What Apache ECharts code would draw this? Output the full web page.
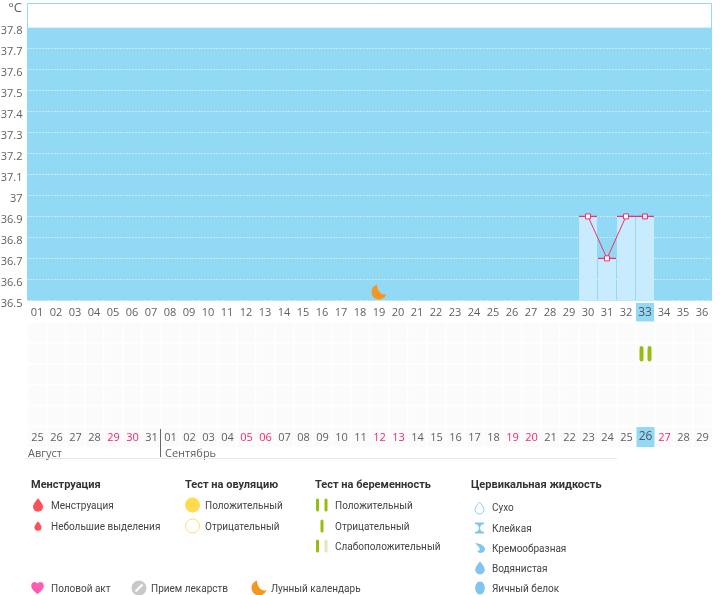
<!DOCTYPE html>
<html><head><meta charset="utf-8">
<style>html,body{margin:0;padding:0;background:#fff}#c{width:720px;height:595px}</style>
<script src="https://cdn.jsdelivr.net/npm/echarts@6/dist/echarts.min.js"></script>
</head><body><div id="c"></div>
<script>
const cycleDays = ['01','02','03','04','05','06','07','08','09','10','11','12','13','14','15','16','17','18','19','20','21','22','23','24','25','26','27','28','29','30','31','32','33','34','35','36'];
const calendarDays = ['25','26','27','28','29','30','31','01','02','03','04','05','06','07','08','09','10','11','12','13','14','15','16','17','18','19','20','21','22','23','24','25','26','27','28','29'];
const weekendIndexes = [4,5,11,12,18,19,25,26,33];
const todayIndex = 32;
const temps = [null,null,null,null,null,null,null,null,null,null,null,null,null,null,null,null,null,null,null,null,null,null,null,null,null,null,null,null,null,36.9,36.7,36.9,36.9,null,null,null];
const moonPoints = [[18,36.54]];
const pregnancyMarks = [[32,1]];
const bandMin = 36.5, bandMax = 37.8;
const rowCount = 6;

const FONT = 'Roboto, sans-serif';
const AXISFONT = '"Open Sans", sans-serif';
const BLUE = '#92d9f6', PALE = '#c8ecfd', PINK = '#f0316c', GREEN = '#96bd0d', ORANGE = '#f5961e';

const DROP = 'path://M12 0C12 0 22 11 22 17A10 10 0 0 1 2 17C2 11 12 0 12 0Z';
const MOON = 'path://M9 1A11.5 11.5 0 1 0 23.5 15.5C15 18 10 10 9 1Z';

const cells = [];
for (let r = 0; r < rowCount; r++) for (let c = 0; c < cycleDays.length; c++) cells.push([c, r, 1]);

const lbl = (list, highlight) => (v, i) => {
  const t = list[i];
  if (i === todayIndex) return '{h|' + t + '}';
  if (highlight && highlight.indexOf(i) >= 0) return '{p|' + t + '}';
  return '{n|' + t + '}';
};
const richSet = {
  n:{width:19,height:20,lineHeight:20,align:'center',color:'#5f5f5f',fontFamily:AXISFONT,fontSize:11},
  p:{width:19,height:20,lineHeight:20,align:'center',color:'#f5296a',fontFamily:AXISFONT,fontSize:11},
  h:{width:18,height:20,lineHeight:21,align:'center',color:'#555',backgroundColor:BLUE,fontFamily:AXISFONT,fontSize:12}
};

// legend content
const heads = [['Менструация',31],['Тест на овуляцию',185],['Тест на беременность',315],['Цервикальная жидкость',471]];
const items = [
  ['Менструация',51,505],['Небольшие выделения',51,526],
  ['Положительный',205,505],['Отрицательный',205,526],
  ['Положительный',335,505],['Отрицательный',335,526],['Слабоположительный',335,546],
  ['Сухо',492,507],['Клейкая',492,528],['Кремообразная',492,548],['Водянистая',492,568],['Яичный белок',492,588],
  ['Половой акт',51,588],['Прием лекарств',151,588],['Лунный календарь',271,588]
];
const months = [['Август',28],['Сентябрь',165]];

function pathIcon(d,cx,cy,w,h,style){
  return {type:'path',shape:{pathData:d,layout:'center',x:cx-w/2,y:cy-h/2,width:w,height:h},style:style,silent:true};
}
const g = [];
heads.forEach(h=>g.push({type:'text',x:h[1],y:485.5,style:{text:h[0],font:'bold 11px '+FONT,fill:'#333',textVerticalAlign:'middle'}}));
items.forEach(t=>g.push({type:'text',x:t[1],y:t[2]+1,style:{text:t[0],font:'10px '+FONT,fill:'#444',textVerticalAlign:'middle'}}));
months.forEach(m=>g.push({type:'text',x:m[1],y:454,style:{text:m[0],font:'11px '+AXISFONT,fill:'#5f5f5f',textVerticalAlign:'middle'}}));
g.push({type:'line',z:10,shape:{x1:160.5,y1:429,x2:160.5,y2:457},style:{stroke:'#666',lineWidth:1}});
g.push({type:'line',shape:{x1:26,y1:458.5,x2:617,y2:458.5},style:{stroke:'#e8e8e8',lineWidth:1}});
const dropD = DROP.slice(7);
const icons = [];
icons.push(pathIcon(dropD,38,505,10,14,{fill:'#fb5058'}));
icons.push(pathIcon(dropD,38,526,7,10,{fill:'#fb5058'}));
g.push({type:'circle',shape:{cx:192.5,cy:505,r:7.5},style:{fill:'#ffdb4d'}});
g.push({type:'circle',shape:{cx:192.5,cy:526,r:7},style:{fill:'#fff',stroke:'#ffe066',lineWidth:1}});
[[317.5,505,GREEN],[326,505,GREEN],[322,526,GREEN],[317.5,546,GREEN],[326,546,'#dde9b8']].forEach(b=>
  g.push({type:'rect',shape:{x:b[0]-1.5,y:b[1]-6.5,width:3,height:13,r:1.5},style:{fill:b[2]}}));
icons.push(pathIcon(dropD,479.5,508,9,12,{fill:'#fff',stroke:'#8fcdf5',lineWidth:1}));
icons.push(pathIcon('M2 0H22V3C16 4 13 8 13 12C13 16 16 20 22 21V24H2V21C8 20 11 16 11 12C11 8 8 4 2 3Z',479.5,528,9,11,{fill:'#7fc5f0'}));
icons.push(pathIcon('M1 1C7 2 13 3 18 6C22 9 24 12 24 15C24 20 20 24 14 24C10 24 7 22 6 19C9 20 12 18 12 15C12 11 6 7 1 1Z',480,548,10,11,{fill:'#7fc5f0'}));
icons.push(pathIcon(dropD,480,568,10,13,{fill:'#7fc5f0'}));
g.push({type:'ellipse',shape:{cx:480,cy:588,rx:4.8,ry:6.5},style:{fill:'#7fc5f0'}});
icons.push(pathIcon('M12 23C6 18 0 14 0 7C0 3 3 0 6.5 0C9 0 11 1.5 12 3C13 1.5 15 0 17.5 0C21 0 24 3 24 7C24 14 18 18 12 23Z',37.5,588,13,12,{fill:'#ff5cb4'}));
g.push({type:'circle',shape:{cx:139,cy:588,r:7.5},style:{fill:'#c8c8c8'}});
g.push({type:'line',shape:{x1:135.5,y1:591.5,x2:142.5,y2:584.5},style:{stroke:'#fff',lineWidth:2.2}});
icons.push(pathIcon(MOON.slice(7),259,588,15,15,{fill:ORANGE}));
g.push({type:'text',x:22,y:8,style:{text:'°C',font:'13px '+AXISFONT,fill:'#5f5f5f',textAlign:'right',textVerticalAlign:'middle'}});

const chart = echarts.init(document.getElementById('c'),null,{renderer:'canvas'});
chart.setOption({
  animation:false,
  backgroundColor:'#fff',
  graphic:{elements:g},
  grid:[
    {left:27.5,width:684,top:3.5,height:296.9,show:true,borderColor:BLUE,borderWidth:1,backgroundColor:'#fff',containLabel:false,outerBoundsMode:'none'},
    {left:28,width:684,top:322.5,height:125,outerBoundsMode:'none'}
  ],
  xAxis:[
    {type:'category',gridIndex:0,data:cycleDays,axisLine:{show:false},axisTick:{show:false},splitLine:{show:false},
     axisLabel:{interval:0,margin:2,formatter:lbl(cycleDays),rich:richSet,hideOverlap:false}},
    {type:'category',gridIndex:1,z:3,data:calendarDays,axisLine:{show:false},axisTick:{show:false},splitLine:{show:false},
     axisLabel:{interval:0,inside:true,margin:0,formatter:lbl(calendarDays,weekendIndexes),rich:richSet,hideOverlap:false}}
  ],
  yAxis:[
    {type:'value',gridIndex:0,z:1.5,min:36.5,max:37.914,interval:0.1,
     axisLine:{show:false},axisTick:{show:false},
     splitLine:{show:true,showMaxLine:false,lineStyle:{color:'#fff',type:[1,2],width:1}},
     axisLabel:{margin:5,showMinLabel:true,showMaxLabel:false,
       rich:{t:{color:'#5f5f5f',fontFamily:AXISFONT,fontSize:11,padding:[6,0,0,0]}},
       formatter:v=>v>37.85?'':'{t|'+String(Number(v.toFixed(1)))+'}'}},
    {type:'category',gridIndex:1,inverse:true,data:[0,1,2,3,4,5],axisLine:{show:false},axisTick:{show:false},axisLabel:{show:false},splitLine:{show:false}}
  ],
  series:[
    {type:'line',xAxisIndex:0,yAxisIndex:0,data:[],z:-1,silent:true,
     markArea:{silent:true,itemStyle:{color:BLUE,opacity:1},data:[[{yAxis:bandMin},{yAxis:bandMax}]]}},
    {type:'bar',xAxisIndex:0,yAxisIndex:0,data:temps,barWidth:18,itemStyle:{color:PALE},z:2,silent:true},
    {type:'scatter',xAxisIndex:0,yAxisIndex:0,data:temps.map((v,i)=>[i,v]).filter(p=>p[1]!=null),symbol:'rect',symbolSize:[18,1.3],itemStyle:{color:PINK,opacity:1},z:3,silent:true},
    {type:'line',xAxisIndex:0,yAxisIndex:0,data:temps.map((v,i)=>({value:v,itemStyle:{color:i===todayIndex?PALE:'#fff',borderColor:PINK,borderWidth:1}})),
     symbol:'rect',symbolSize:5,showSymbol:true,showAllSymbol:true,lineStyle:{color:PINK,width:1},z:4,silent:true},
    {type:'scatter',xAxisIndex:0,yAxisIndex:0,data:moonPoints,symbol:MOON,symbolSize:15,itemStyle:{color:ORANGE,opacity:1},z:4,silent:true},
    {type:'heatmap',xAxisIndex:1,yAxisIndex:1,data:cells,itemStyle:{color:'#fcfbfb',borderColor:'#fff',borderWidth:1.5},z:1,silent:true,emphasis:{disabled:true}},
    {type:'scatter',xAxisIndex:1,yAxisIndex:1,data:pregnancyMarks,symbol:'roundRect',symbolSize:[4,15],symbolOffset:[-4,0],itemStyle:{color:GREEN,opacity:1},z:4,silent:true},
    {type:'scatter',xAxisIndex:1,yAxisIndex:1,data:pregnancyMarks,symbol:'roundRect',symbolSize:[4,15],symbolOffset:[4,0],itemStyle:{color:GREEN,opacity:1},z:4,silent:true},
    {type:'custom',coordinateSystem:'none',data:[0],silent:true,z:5,renderItem:()=>({type:'group',children:icons})}
  ]
});
</script></body></html>
